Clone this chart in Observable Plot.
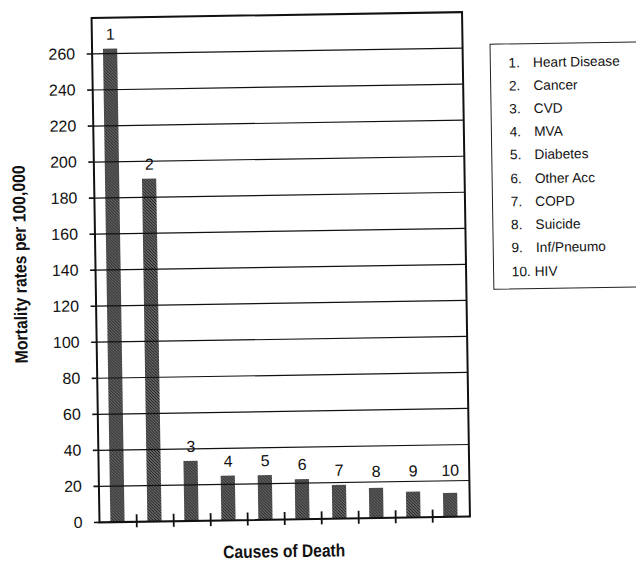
<!DOCTYPE html>
<html>
<head>
<meta charset="utf-8">
<script src="https://cdn.jsdelivr.net/npm/d3@7"></script>
<script src="https://cdn.jsdelivr.net/npm/@observablehq/plot@0.6"></script>
<style>
  html, body { margin: 0; padding: 0; background: #fff; overflow: hidden; }
  #wrap { position: relative; width: 636px; height: 561px; transform: rotate(-0.9deg); transform-origin: 280px 267px; }
  #chart svg { display: block; }
  #legend { position: absolute; left: 492.5px; top: 47.3px; width: 200px; height: 246px; box-sizing: border-box;
            border: 1.3px solid #222; font-family: "Liberation Sans", Arial, sans-serif; font-size: 13.7px; color: #111; }
  #legend .item { position: absolute; left: 0; height: 23.22px; line-height: 23.22px; white-space: nowrap; }
  #legend .num { position: absolute; left: 18.2px; }
  #legend .name { position: absolute; left: 42.7px; }
</style>
</head>
<body>
<div id="wrap">
  <div id="chart"></div>
  <div id="legend"></div>
</div>
<script>
const causes = ["1", "2", "3", "4", "5", "6", "7", "8", "9", "10"];
const causeNames = ["Heart Disease", "Cancer", "CVD", "MVA", "Diabetes", "Other Acc", "COPD", "Suicide", "Inf/Pneumo", "HIV"];
const rates = [262.5, 190, 33, 24.5, 24.5, 22, 18.5, 16.5, 14, 13];
const yTicks = [0, 20, 40, 60, 80, 100, 120, 140, 160, 180, 200, 220, 240, 260];
const yTitle = "Mortality rates per 100,000";
const xTitle = "Causes of Death";

const data = causes.map((c, i) => ({cause: c, name: causeNames[i], rate: rates[i]}));

const W = 636, H = 561;
const mL = 95, mR = 170.5, mT = 14.5, mB = 42;
const xRange = [93, 467.7];
const step = (xRange[1] - xRange[0]) / causes.length;
const frameH = H - mT - mB;
const sans = "'Liberation Sans', Arial, sans-serif";

const chart = Plot.plot({
  width: W, height: H,
  marginLeft: mL, marginRight: mR, marginTop: mT, marginBottom: mB,
  style: {fontFamily: sans, fontSize: "16px", color: "#111", background: "white"},
  x: {type: "band", domain: causes, range: xRange, padding: 0, axis: null},
  y: {domain: [0, 280], axis: null},
  marks: [
    Plot.barY(data, {x: "cause", y: "rate", fill: "url(#dither)", insetLeft: 11.4, insetRight: 11.4}),
    Plot.ruleY(yTicks.filter(d => d > 0), {y: d => d, stroke: "#111", strokeWidth: 1.2}),
    Plot.frame({stroke: "#111", strokeWidth: 2}),
    Plot.axisY({ticks: yTicks, tickSize: 5, tickPadding: 12, fontSize: 16, tickFormat: d => String(d), label: null, stroke: "#111", strokeWidth: 1.6}),
    Plot.ruleX(causes.slice(0, 9), {x: d => d, dx: step / 2, insetTop: frameH - 7, insetBottom: -6, stroke: "#111", strokeWidth: 1.8}),
    Plot.text(data, {x: "cause", y: d => Math.max(d.rate, 17.5), text: "cause", dy: -9.5, lineAnchor: "bottom", fontSize: 16, fill: "#111"}),
    Plot.text([yTitle], {frameAnchor: "left", text: d => d, rotate: -90, dx: -75, dy: -7, textAnchor: "middle", lineAnchor: "middle", fontWeight: "bold", fontSize: 18, fontFamily: sans, fill: "#111"}),
    Plot.text([xTitle], {frameAnchor: "bottom", text: d => d, dx: -1, dy: 32, textAnchor: "middle", lineAnchor: "middle", fontWeight: "bold", fontSize: 18, fontFamily: sans, fill: "#111"})
  ]
});

// condensed look for the bold titles (the original uses a narrow face)
chart.querySelectorAll("text").forEach(t => {
  if (t.textContent === yTitle) { t.setAttribute("textLength", 198); t.setAttribute("lengthAdjust", "spacingAndGlyphs"); }
  if (t.textContent === xTitle) { t.setAttribute("textLength", 122); t.setAttribute("lengthAdjust", "spacingAndGlyphs"); }
});

// dithered fill for the bars
const ns = "http://www.w3.org/2000/svg";
const defs = document.createElementNS(ns, "defs");
defs.innerHTML = '<pattern id="dither" width="3" height="3" patternUnits="userSpaceOnUse">' +
  '<rect width="3" height="3" fill="#9a9a9a"/>' +
  '<path d="M-1,-1 L4,4 M-1,2 L1,4 M2,-1 L4,1" stroke="#1e1e1e" stroke-width="1.25"/></pattern>';
chart.insertBefore(defs, chart.firstChild);
document.getElementById("chart").appendChild(chart);

// legend
const legend = document.getElementById("legend");
const firstTop = 54.84 - 47.3 - 1.3;
data.forEach((d, i) => {
  const item = document.createElement("div");
  item.className = "item";
  item.style.top = (firstTop + i * 23.22) + "px";
  item.style.width = "190px";
  const num = document.createElement("span");
  num.className = "num";
  if (i < 9) {
    num.textContent = d.cause + ".";
    const nm = document.createElement("span");
    nm.className = "name";
    nm.textContent = d.name;
    item.appendChild(num);
    item.appendChild(nm);
  } else {
    num.textContent = d.cause + ". " + d.name;
    item.appendChild(num);
  }
  legend.appendChild(item);
});
</script>
</body>
</html>
